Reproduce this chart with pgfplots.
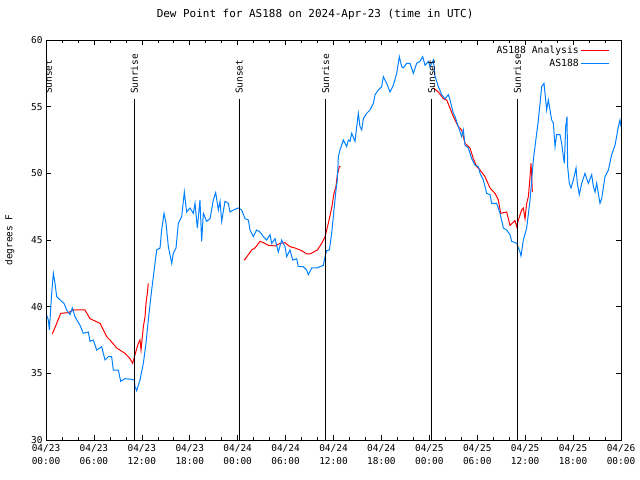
\documentclass[border=0pt]{standalone}
\usepackage{pgfplots}
\pgfplotsset{compat=1.18}
\usepackage{fontspec}
\setmainfont{DejaVu Sans Mono}
\definecolor{anred}{RGB}{255,0,0}
\definecolor{obsblue}{RGB}{0,128,255}
\begin{document}
\begin{tikzpicture}
\path[use as bounding box] (-46bp,-40bp) rectangle (594bp,440bp);
\begin{axis}[
  at={(0,0)}, anchor=south west,
  scale only axis, width=575bp, height=400bp,
  xmin=0, xmax=72, ymin=30, ymax=60,
  unbounded coords=jump,
  xtick={0,6,...,72},
  xticklabels={04/23\\00:00,04/23\\06:00,04/23\\12:00,04/23\\18:00,04/24\\00:00,04/24\\06:00,04/24\\12:00,04/24\\18:00,04/25\\00:00,04/25\\06:00,04/25\\12:00,04/25\\18:00,04/26\\00:00},
  minor x tick num=2,
  ytick={30,35,...,60},
  tick align=inside,
  major tick length=5bp, minor tick length=3.5bp,
  every tick/.style={black, line width=0.6bp},
  axis line style={line width=0.8bp},
  /pgf/number format/assume math mode=true,
  x tick label style={align=center, font=\fontsize{9.5}{13}\selectfont, yshift=-1bp},
  y tick label style={font=\fontsize{9.5}{11}\selectfont},
  ylabel={degrees F},
  ylabel style={at={(axis description cs:-0.063,0.5)}, anchor=center, font=\fontsize{9.5}{11}\selectfont},
  title={Dew Point for AS188 on 2024-Apr-23 (time in UTC)},
  title style={at={(axis description cs:0.468,1)}, anchor=base, yshift=17bp, font=\fontsize{11}{13}\selectfont},
  legend style={at={(axis description cs:0.98,0.99)}, anchor=north east, draw=none, fill=none,
    font=\fontsize{9.8}{11}\selectfont, inner sep=0pt, row sep=1.5bp,
    nodes={inner sep=1.5bp}},
  legend cell align=right,
  legend plot pos=right,
  legend image code/.code={\draw[#1] (6bp,0bp) -- (34bp,0bp);},
]
\addplot[anred, line width=1bp] coordinates {
(0.79,37.95) (1.34,38.75) (1.84,39.5) (2.80,39.55) (3.42,39.75) (4.88,39.75) (5.51,39.1)
(6.76,38.75) (7.60,37.75) (8.01,37.5) (8.85,36.9) (9.89,36.5) (10.52,36.1) (10.85,35.75)
(11.14,36.4) (11.56,37.25) (11.77,37.5) (11.90,36.75) (12.19,38.5) (12.40,39.25) (12.52,40.25)
(12.69,41.0) (12.81,41.75)
(18,nan)
(24.79,43.5) (24.92,43.55) (25.34,43.9) (25.75,44.25) (26.17,44.4) (26.80,44.9) (27.21,44.8)
(27.84,44.6) (28.68,44.55) (29.30,44.75) (29.93,44.8) (30.55,44.5) (31.18,44.4) (32.01,44.2)
(32.64,43.95) (33.06,43.95) (33.98,44.25) (34.52,44.75) (34.94,45.25) (35.35,46.25) (35.77,47.4)
(36.06,48.5) (36.31,49.0) (36.48,49.9) (36.73,50.5) (36.90,50.5)
(42,nan)
(48.50,56.4) (49.13,56.1) (49.75,55.6) (50.17,55.5) (50.59,54.9) (51.01,54.25) (51.63,53.5)
(52.05,53.25) (52.47,52.25) (53.09,51.9) (53.51,51.1) (53.93,50.5) (54.35,50.25) (54.97,49.75)
(55.60,48.9) (56.22,48.5) (56.64,48.0) (56.93,47.0) (57.68,47.1) (57.89,46.6) (58.10,46.1)
(58.73,46.45) (58.94,46.0) (59.15,46.5) (59.56,47.25) (59.77,47.4) (59.98,46.6) (60.19,47.75)
(60.40,48.25) (60.61,49.75) (60.73,50.75) (60.82,49.6) (60.90,48.6)
};
\addlegendentry{AS188 Analysis}
\addplot[obsblue, line width=1bp] coordinates {
(0.0,39.5) (0.29,39.0) (0.42,38.25) (0.71,41.0) (0.92,42.5) (1.13,41.75) (1.34,40.75) (1.96,40.4)
(2.25,40.25) (2.59,39.75) (3.01,39.4) (3.30,39.9) (3.63,39.25) (4.26,38.6) (4.67,38.0)
(5.30,38.1) (5.51,37.4) (5.93,37.5) (6.34,36.75) (6.97,37.0) (7.39,36.0) (7.80,36.25)
(8.22,36.25) (8.43,35.25) (9.06,35.25) (9.35,34.4) (9.89,34.6) (10.73,34.55) (11.06,34.5)
(11.14,34.0) (11.35,33.7) (11.77,34.5) (12.19,35.75) (12.52,37.25) (12.81,39.0) (13.23,41.25)
(13.65,43.25) (13.86,44.25) (14.28,44.4) (14.48,45.75) (14.78,47.0) (15.03,46.25) (15.32,44.5)
(15.74,43.25) (15.94,44.0) (16.28,44.4) (16.57,46.25) (16.99,46.75) (17.32,48.6) (17.61,47.1)
(18.03,47.4) (18.45,47.0) (18.66,47.75) (18.95,45.9) (19.28,48.0) (19.49,44.9) (19.70,47.0)
(20.12,46.4) (20.54,46.6) (20.95,48.0) (21.25,48.55) (21.58,47.25) (21.79,47.9) (22.00,46.4)
(22.41,47.9) (22.83,47.75) (23.04,47.1) (23.46,47.25) (24.08,47.4) (24.50,47.25) (24.92,46.6)
(25.34,46.5) (25.54,45.75) (25.96,45.25) (26.38,45.75) (26.80,45.6) (27.21,45.25) (27.63,45.0)
(28.05,45.4) (28.26,44.75) (28.68,45.1) (29.09,44.1) (29.51,45.0) (29.93,44.5) (30.14,43.75)
(30.55,44.25) (30.89,43.5) (31.39,43.6) (31.60,43.0) (32.22,43.0) (32.64,42.75) (32.85,42.4)
(33.27,42.9) (33.89,42.9) (34.73,43.1) (34.94,43.75) (35.14,44.2) (35.48,44.25) (35.77,45.5)
(36.06,47.25) (36.31,48.75) (36.48,49.5) (36.61,51.25) (36.81,51.75) (37.23,52.5) (37.65,52.0)
(37.86,52.5) (38.07,52.4) (38.28,53.0) (38.69,52.4) (39.11,54.5) (39.32,53.5) (39.53,53.25)
(39.74,54.1) (40.15,54.5) (40.57,54.75) (40.99,55.25) (41.20,55.9) (41.61,56.25) (42.03,56.5)
(42.24,57.25) (42.66,56.75) (43.08,56.1) (43.49,56.6) (43.91,57.5) (44.24,58.75) (44.54,58.0)
(44.74,57.9) (45.16,58.25) (45.58,58.25) (46.00,57.5) (46.41,58.25) (46.83,58.4) (47.17,58.75)
(47.46,58.1) (47.87,58.4) (48.08,58.0) (48.50,58.5) (48.71,57.3) (49.13,56.5) (49.55,55.9)
(49.96,55.6) (50.38,55.9) (50.59,55.5) (50.80,55.0) (51.01,54.5) (51.22,54.25) (51.63,53.5)
(52.05,52.75) (52.26,53.25) (52.47,52.1) (52.89,51.9) (53.30,51.1) (53.72,50.6) (54.14,50.5)
(54.35,50.0) (54.76,49.5) (55.18,48.5) (55.60,48.4) (55.81,47.75) (56.43,47.75) (56.85,47.0)
(57.27,45.9) (57.68,45.75) (58.10,45.4) (58.31,44.9) (58.94,44.75) (59.35,44.1) (59.48,43.8)
(59.77,45.0) (60.19,45.9) (60.61,48.0) (61.02,51.0) (61.23,52.0) (61.65,54.0) (61.86,55.25)
(62.07,56.5) (62.36,56.75) (62.69,54.75) (62.90,55.5) (63.32,54.0) (63.53,53.75) (63.74,52.0)
(63.94,52.9) (64.36,52.9) (64.57,52.25) (64.78,51.25) (64.91,50.75) (65.07,53.5) (65.24,54.25)
(65.32,50.5) (65.53,49.25) (65.74,48.9) (66.03,49.5) (66.37,50.4) (66.53,49.25) (66.78,48.4)
(67.08,49.25) (67.49,50.0) (67.70,49.6) (67.91,49.25) (68.33,49.9) (68.54,49.0) (68.75,48.6)
(68.95,49.25) (69.37,47.75) (69.58,48.1) (70.00,49.75) (70.42,50.25) (70.83,51.4) (71.25,52.1)
(71.67,53.5) (71.87,54.0) (72.0,53.5)
};
\addlegendentry{AS188}
% sunrise / sunset markers
\addplot[black, line width=0.8bp, forget plot] coordinates {(0.05,30) (0.05,55.6)};
\addplot[black, line width=0.8bp, forget plot] coordinates {(11.06,30) (11.06,55.6)};
\addplot[black, line width=0.8bp, forget plot] coordinates {(24.2,30) (24.2,55.6)};
\addplot[black, line width=0.8bp, forget plot] coordinates {(35.02,30) (35.02,55.6)};
\addplot[black, line width=0.8bp, forget plot] coordinates {(48.29,30) (48.29,55.6)};
\addplot[black, line width=0.8bp, forget plot] coordinates {(59.02,30) (59.02,55.6)};
\node[rotate=90, anchor=west, inner sep=0pt, font=\fontsize{9.5}{11}\selectfont] at (axis cs:0.3,55.95) {Sunset};
\node[rotate=90, anchor=west, inner sep=0pt, font=\fontsize{9.5}{11}\selectfont] at (axis cs:11.06,55.95) {Sunrise};
\node[rotate=90, anchor=west, inner sep=0pt, font=\fontsize{9.5}{11}\selectfont] at (axis cs:24.2,55.95) {Sunset};
\node[rotate=90, anchor=west, inner sep=0pt, font=\fontsize{9.5}{11}\selectfont] at (axis cs:35.02,55.95) {Sunrise};
\node[rotate=90, anchor=west, inner sep=0pt, font=\fontsize{9.5}{11}\selectfont] at (axis cs:48.29,55.95) {Sunset};
\node[rotate=90, anchor=west, inner sep=0pt, font=\fontsize{9.5}{11}\selectfont] at (axis cs:59.02,55.95) {Sunrise};
\end{axis}
\end{tikzpicture}
\end{document}
